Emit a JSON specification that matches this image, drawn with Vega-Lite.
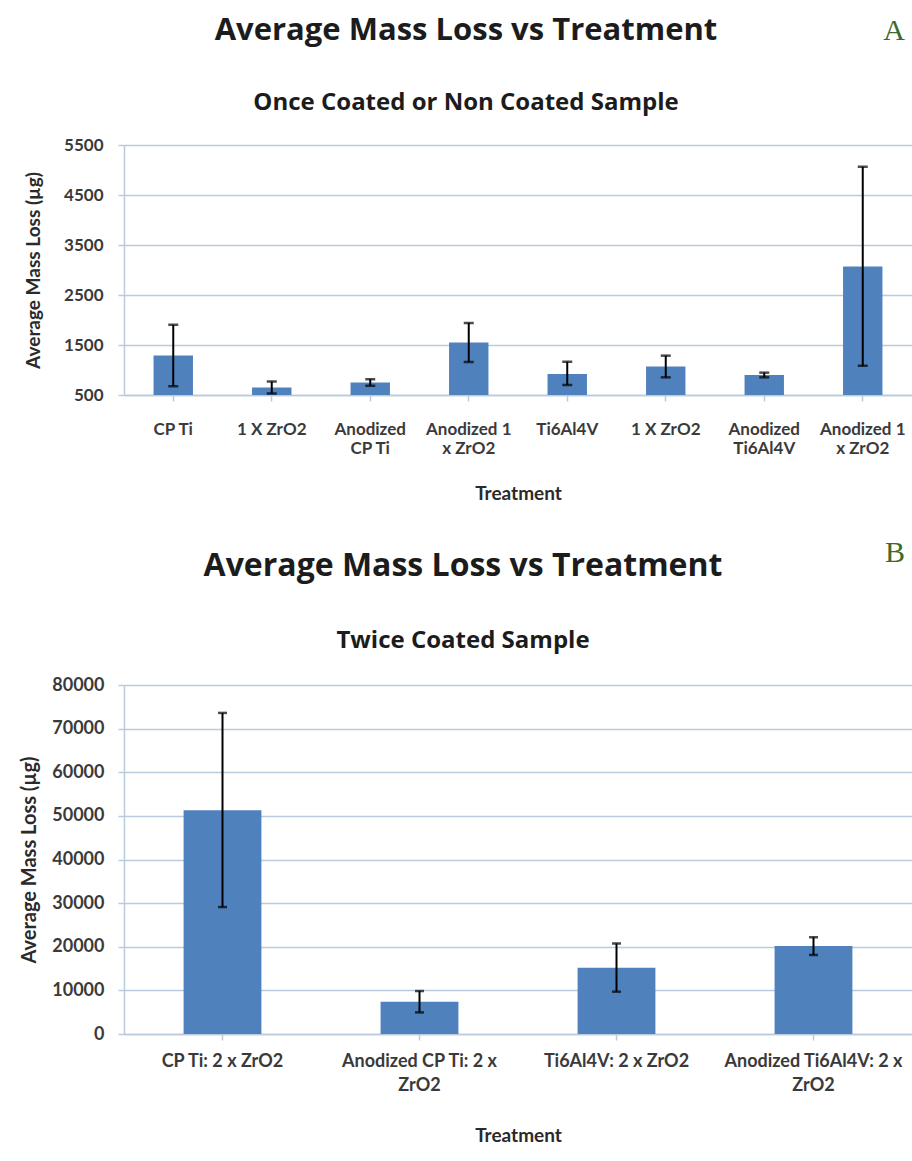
{
  "$schema": "https://vega.github.io/schema/vega-lite/v6.json",
  "background": "white",
  "padding": {"left": 19, "top": 15, "right": 0, "bottom": 0},
  "config": {
    "font": "Lato",
    "view": {"stroke": null},
    "axis": {
      "domainColor": "#b9cbdc",
      "tickColor": "#b9cbdc",
      "gridColor": "#b9cbdc",
      "gridWidth": 1.5,
      "domainWidth": 1.5,
      "tickWidth": 1.5,
      "labelFontWeight": "bold",
      "labelColor": "#3a3a3a",
      "titleFontWeight": "bold",
      "titleColor": "#2a2a2a"
    }
  },
  "datasets": {
    "once": [
      {"treatment": "CP Ti", "mean": 1290, "lo": 675, "hi": 1905},
      {"treatment": "1 X ZrO2", "mean": 650, "lo": 530, "hi": 770},
      {"treatment": "Anodized CP Ti", "mean": 750, "lo": 685, "hi": 815},
      {"treatment": "Anodized 1 x ZrO2", "mean": 1550, "lo": 1160, "hi": 1940},
      {"treatment": "Ti6Al4V", "mean": 920, "lo": 700, "hi": 1165},
      {"treatment": "1 X ZrO2 ", "mean": 1070, "lo": 853, "hi": 1287},
      {"treatment": "Anodized Ti6Al4V", "mean": 900, "lo": 853, "hi": 947},
      {"treatment": "Anodized 1 x ZrO2 ", "mean": 3070, "lo": 1085, "hi": 5065}
    ],
    "twice": [
      {"treatment": "CP Ti: 2 x ZrO2", "mean": 51300, "lo": 29100, "hi": 73600},
      {"treatment": "Anodized CP Ti: 2 x ZrO2", "mean": 7400, "lo": 4950, "hi": 9850},
      {"treatment": "Ti6Al4V: 2 x ZrO2", "mean": 15200, "lo": 9700, "hi": 20750},
      {"treatment": "Anodized Ti6Al4V: 2 x ZrO2", "mean": 20150, "lo": 18120, "hi": 22180}
    ]
  },
  "spacing": 35,
  "vconcat": [
    {
      "title": {"text": "A", "anchor": "end", "font": "Liberation Serif", "fontSize": 30, "fontWeight": "normal", "color": "#3d6b2a", "offset": -31, "dx": -7},
      "vconcat": [
        {
          "width": 788,
          "height": 250,
          "title": {
            "text": "Average Mass Loss vs Treatment",
            "subtitle": "Once Coated or Non Coated Sample",
            "anchor": "middle",
            "dx": -52,
            "font": "Open Sans",
            "subtitleFont": "Open Sans",
            "fontSize": 31,
            "fontWeight": "bold",
            "color": "#1c1c1c",
            "subtitleFontSize": 24,
            "subtitleFontWeight": "bold",
            "subtitleColor": "#1c1c1c",
            "subtitlePadding": 44,
            "offset": 20
          },
          "data": {"name": "once"},
          "encoding": {
            "x": {
              "field": "treatment",
              "type": "nominal",
              "sort": null,
              "scale": {"paddingInner": 0, "paddingOuter": 0},
              "axis": {
                "title": "Treatment",
                "labelAngle": 0,
                "tickSize": 6,
                "labelPadding": 20,
                "labelFontSize": 17,
                "labelLineHeight": 19,
                "titleFontSize": 19,
                "titlePadding": 28,
                "labelExpr": "datum.value == 'Anodized CP Ti' ? ['Anodized', 'CP Ti'] : datum.value == 'Anodized Ti6Al4V' ? ['Anodized', 'Ti6Al4V'] : indexof(datum.value, 'Anodized 1 x ZrO2') == 0 ? ['Anodized 1', 'x ZrO2'] : trim(datum.value)"
              }
            }
          },
          "layer": [
            {
              "mark": {"type": "bar", "color": "#4f81bd", "width": {"band": 0.4}},
              "encoding": {
                "y": {
                  "field": "mean",
                  "type": "quantitative",
                  "title": "Average Mass Loss (µg)",
                  "scale": {"domain": [500, 5500], "nice": false, "zero": false},
                  "axis": {
                    "values": [500, 1500, 2500, 3500, 4500, 5500],
                    "format": "d",
                    "grid": true,
                    "tickSize": 6,
                    "labelPadding": 15,
                    "labelFontSize": 17,
                    "titleFontSize": 19,
                    "titlePadding": 20
                  }
                },
                "y2": {"datum": 500}
              }
            },
            {
              "mark": {"type": "rule", "color": "#000000", "strokeWidth": 2},
              "encoding": {
                "y": {"field": "lo", "type": "quantitative", "title": "Average Mass Loss (µg)"},
                "y2": {"field": "hi"}
              }
            },
            {
              "mark": {"type": "tick", "color": "#000000", "thickness": 2.5, "size": 10},
              "encoding": {"y": {"field": "lo", "type": "quantitative", "title": "Average Mass Loss (µg)"}}
            },
            {
              "mark": {"type": "tick", "color": "#000000", "thickness": 2.5, "size": 10},
              "encoding": {"y": {"field": "hi", "type": "quantitative", "title": "Average Mass Loss (µg)"}}
            }
          ]
        }
      ]
    },
    {
      "title": {"text": "B", "anchor": "end", "font": "Liberation Serif", "fontSize": 30, "fontWeight": "normal", "color": "#3d6b2a", "offset": -18, "dx": -7},
      "vconcat": [
        {
          "width": 788,
          "height": 349,
          "title": {
            "text": "Average Mass Loss vs Treatment",
            "subtitle": "Twice Coated Sample",
            "anchor": "middle",
            "dx": -55,
            "font": "Open Sans",
            "subtitleFont": "Open Sans",
            "fontSize": 32,
            "fontWeight": "bold",
            "color": "#1c1c1c",
            "subtitleFontSize": 24,
            "subtitleFontWeight": "bold",
            "subtitleColor": "#1c1c1c",
            "subtitlePadding": 46,
            "offset": 22
          },
          "data": {"name": "twice"},
          "encoding": {
            "x": {
              "field": "treatment",
              "type": "nominal",
              "sort": null,
              "scale": {"paddingInner": 0, "paddingOuter": 0},
              "axis": {
                "title": "Treatment",
                "labelAngle": 0,
                "tickSize": 6,
                "labelPadding": 12,
                "labelFontSize": 18,
                "labelLineHeight": 24,
                "titleFontSize": 19,
                "titlePadding": 32,
                "labelExpr": "datum.value == 'Anodized CP Ti: 2 x ZrO2' ? ['Anodized CP Ti: 2 x', 'ZrO2'] : datum.value == 'Anodized Ti6Al4V: 2 x ZrO2' ? ['Anodized Ti6Al4V: 2 x', 'ZrO2'] : datum.value"
              }
            }
          },
          "layer": [
            {
              "mark": {"type": "bar", "color": "#4f81bd", "width": {"band": 0.395}},
              "encoding": {
                "y": {
                  "field": "mean",
                  "type": "quantitative",
                  "title": "Average Mass Loss (µg)",
                  "scale": {"domain": [0, 80000], "nice": false},
                  "axis": {
                    "values": [0, 10000, 20000, 30000, 40000, 50000, 60000, 70000, 80000],
                    "format": "d",
                    "grid": true,
                    "tickSize": 6,
                    "labelPadding": 14,
                    "labelFontSize": 18,
                    "titleFontSize": 20,
                    "titlePadding": 12
                  }
                }
              }
            },
            {
              "mark": {"type": "rule", "color": "#000000", "strokeWidth": 2},
              "encoding": {
                "y": {"field": "lo", "type": "quantitative", "title": "Average Mass Loss (µg)"},
                "y2": {"field": "hi"}
              }
            },
            {
              "mark": {"type": "tick", "color": "#000000", "thickness": 2.5, "size": 9},
              "encoding": {"y": {"field": "lo", "type": "quantitative", "title": "Average Mass Loss (µg)"}}
            },
            {
              "mark": {"type": "tick", "color": "#000000", "thickness": 2.5, "size": 9},
              "encoding": {"y": {"field": "hi", "type": "quantitative", "title": "Average Mass Loss (µg)"}}
            }
          ]
        }
      ]
    }
  ]
}
